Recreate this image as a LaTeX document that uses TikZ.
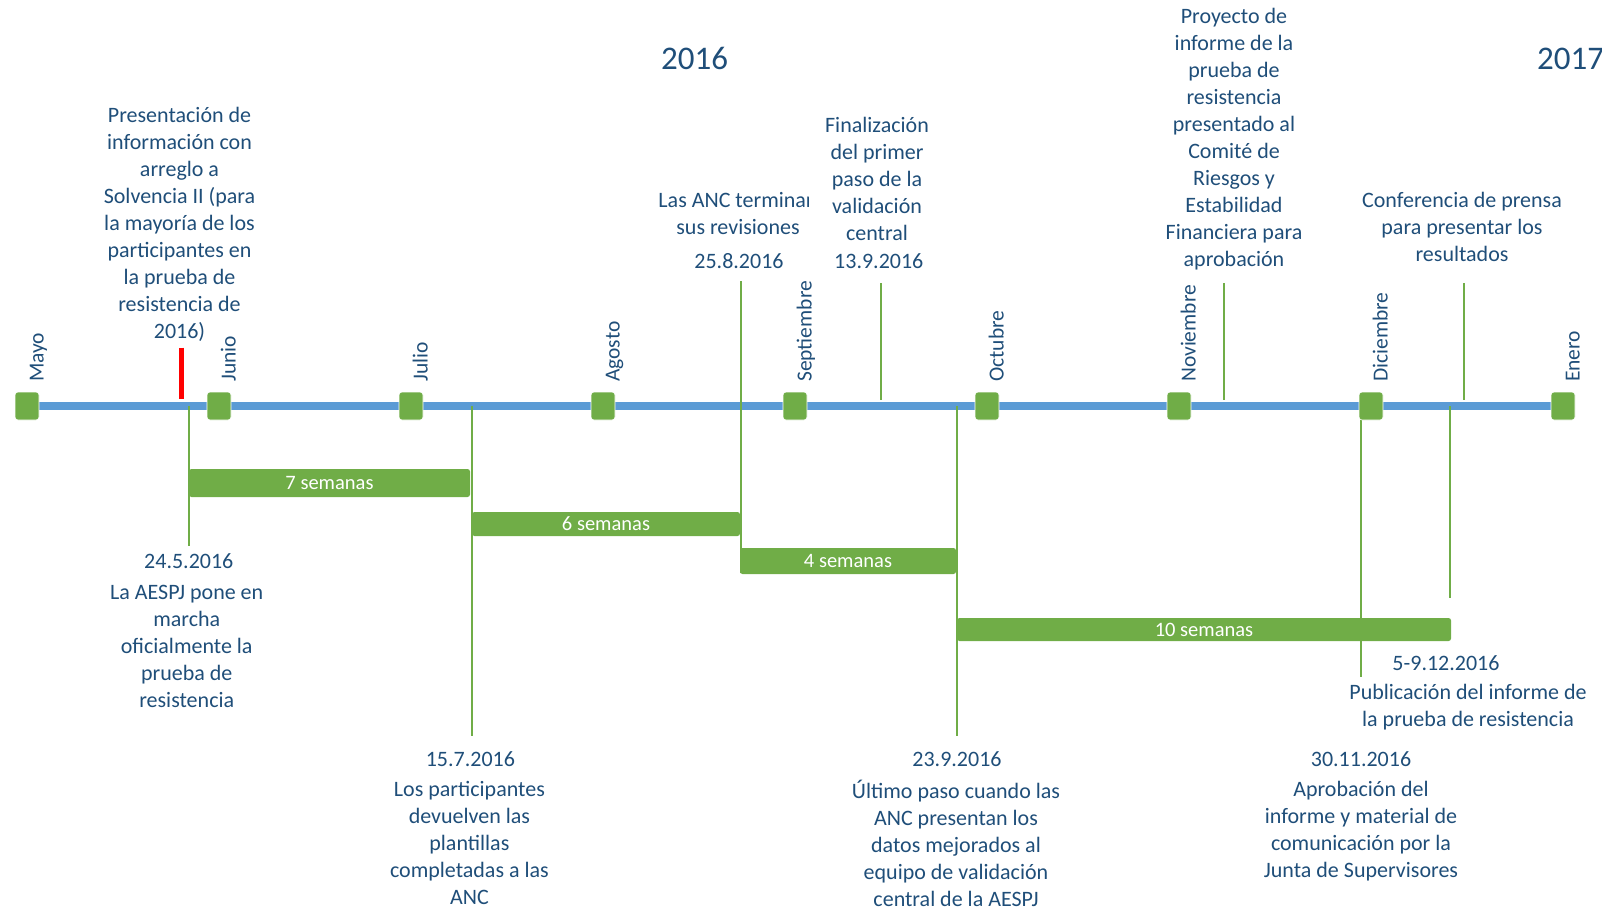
\documentclass[tikz,border=0pt]{standalone}
\usepackage{fontspec}
\setmainfont{Carlito}
\definecolor{tblue}{HTML}{1F4E79}
\definecolor{tgreen}{HTML}{70AD47}
\definecolor{lblue}{HTML}{5B9BD5}
\tikzset{
  txt/.style={text=tblue, align=center, font=\fontsize{22}{27}\selectfont, inner sep=0pt},
  month/.style={rotate=90, anchor=base west, text=tblue, font=\fontsize{21.5}{24}\selectfont, inner sep=0pt},
  msq/.style={fill=tgreen, draw=white, line width=0.6pt, rounded corners=3pt, minimum width=24pt, minimum height=28pt, inner sep=0pt},
  barbox/.style={fill=tgreen, rounded corners=2.5pt, inner sep=0pt, text=white, font=\fontsize{20.5}{24}\selectfont},
  vline/.style={draw=tgreen, line width=2pt},
  axisline/.style={draw=lblue, line width=8pt},
  redmark/.style={draw=red, line width=5pt},
  yeartxt/.style={text=tblue, font=\fontsize{33}{36}\selectfont, inner sep=0pt},
}
\begin{document}
\begin{tikzpicture}[x=1pt,y=-1pt]
\useasboundingbox (0,0) rectangle (1602,910);

% axis
\coordinate (axL) at (27,406);
\coordinate (axR) at (1563,406);
\draw[axisline] (axL) -- (axR);

% years
\node[yeartxt] (y2016) at (694.5,58.7) {2016};
\node[yeartxt, anchor=west] (y2017) at (1537,58.7) {2017};

% vertical lines above axis
\coordinate (r1) at (181,347.7); \coordinate (r2) at (181,399.3);
\draw[redmark] (r1) -- (r2);
\coordinate (u1) at (881,283); \coordinate (u1b) at (881,400);
\draw[vline] (u1) -- (u1b);
\coordinate (u2) at (1224,283); \coordinate (u2b) at (1224,400);
\draw[vline] (u2) -- (u2b);
\coordinate (u3) at (1464,283); \coordinate (u3b) at (1464,400);
\draw[vline] (u3) -- (u3b);

% vertical lines through / below axis
\coordinate (a1) at (189,406); \coordinate (a1b) at (189,546);
\draw[vline] (a1) -- (a1b);
\coordinate (a2) at (472,406); \coordinate (a2b) at (472,736);
\draw[vline] (a2) -- (a2b);
\coordinate (a3) at (741,281); \coordinate (a3b) at (741,573);
\draw[vline] (a3) -- (a3b);
\coordinate (a4) at (957,406); \coordinate (a4b) at (957,736);
\draw[vline] (a4) -- (a4b);
\coordinate (a5) at (1361,406); \coordinate (a5b) at (1361,677);
\draw[vline] (a5) -- (a5b);
\coordinate (a6) at (1450,406); \coordinate (a6b) at (1450,598);
\draw[vline] (a6) -- (a6b);

% month squares and labels
\foreach \i/\m in {0/Mayo,1/Junio,2/Julio,3/Agosto,4/Septiembre,5/Octubre,6/Noviembre,7/Diciembre,8/Enero}{
  \node[msq] (sq\i) at ({27+192*\i},406) {};
  \node[month] (ml\i) at ({27+192*\i+16.5},382) {\m};
}

% bars
\node[barbox, minimum width=281pt, minimum height=28pt] (b7) at (329.5,483) {7 semanas};
\node[barbox, minimum width=268pt, minimum height=24pt] (b6) at (606,524) {6 semanas};
\node[barbox, minimum width=216pt, minimum height=26pt] (b4) at (848,561) {4 semanas};
\node[barbox, minimum width=494pt, minimum height=23pt] (b10) at (1204,629.5) {10 semanas};

% top texts
\node[txt] (tPres) at (179.5,224) {Presentación de\\información con\\arreglo  a\\Solvencia II (para\\la mayoría de los\\participantes  en\\la prueba de\\resistencia de\\2016)};
\begin{scope}
  \clip (600,150) rectangle (808,245);
  \node[txt] (tANC) at (738,213.5) {Las ANC terminan\\sus revisiones};
\end{scope}
\node[txt] (d258) at (739,260.7) {25.8.2016};
\node[txt] (tFin) at (877,178.5) {Finalización\\del primer\\paso de la\\validación\\central};
\node[txt] (d139) at (878.8,260.7) {13.9.2016};
\node[txt] (tProy) at (1234,138.7) {Proyecto de\\informe de la\\prueba de\\resistencia\\presentado  al\\Comité de\\Riesgos y\\Estabilidad\\Financiera  para\\aprobación};
\node[txt] (tConf) at (1462,227) {Conferencia de prensa\\para presentar  los\\resultados};

% bottom texts
\node[txt] (d245) at (188.8,561.5) {24.5.2016};
\node[txt] (tAESPJ) at (186.7,646.7) {La AESPJ pone en\\marcha\\oficialmente  la\\prueba de\\resistencia};
\node[txt] (d157) at (470.4,759.3) {15.7.2016};
\node[txt] (tPart) at (469.4,842.5) {Los participantes\\devuelven  las\\plantillas\\completadas  a las\\ANC};
\node[txt] (d239) at (957,759.3) {23.9.2016};
\node[txt] (tUlt) at (956,843) {Último paso cuando las\\ANC presentan  los\\datos mejorados  al\\equipo de validación\\central  de la AESPJ};
\node[txt] (d3011) at (1361,759.3) {30.11.2016};
\node[txt] (tApr) at (1361,831) {Aprobación del\\informe y material  de\\comunicación por la\\Junta de Supervisores};
\node[txt] (d5912) at (1446,663.3) {5-9.12.2016};
\node[txt] (tPub) at (1468,707) {Publicación del informe de\\la prueba de resistencia};
\end{tikzpicture}
\end{document}
